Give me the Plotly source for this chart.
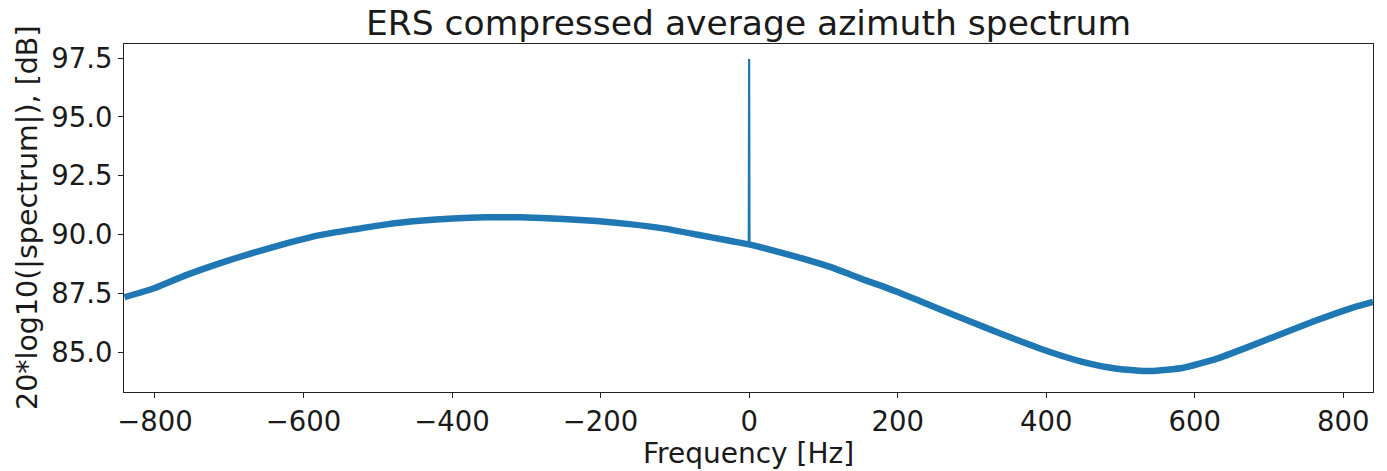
import plotly.graph_objects as go

# Frequency [Hz] and average spectrum [dB]
freq_hz = [-841, -802, -758, -713, -668, -623, -578, -533, -488, -444, -399, -354,
           -309, -250, -205, -161, -116, -71, -26, 0, 19, 64, 109, 136, 154, 181,
           200, 226, 243, 270, 315, 360, 405, 450, 495, 540, 585, 630, 674, 719,
           764, 809, 840]
spectrum_db = [87.33, 87.70, 88.27, 88.77, 89.22, 89.62, 89.97, 90.21, 90.43, 90.58,
               90.68, 90.73, 90.73, 90.66, 90.57, 90.44, 90.26, 90.00, 89.73, 89.58,
               89.43, 89.05, 88.62, 88.30, 88.08, 87.78, 87.55, 87.22, 87.00, 86.65,
               86.08, 85.52, 85.00, 84.57, 84.29, 84.19, 84.33, 84.72, 85.24, 85.80,
               86.35, 86.85, 87.13]

# DC spike
spike_hz = [-0.5, 0, 0.5]
spike_db = [89.58, 97.46, 89.58]

x_ticks = [-800, -600, -400, -200, 0, 200, 400, 600, 800]
y_ticks = [85.0, 87.5, 90.0, 92.5, 95.0, 97.5]

BLUE = "#1f77b4"
FONT = "DejaVu Sans"
TXT = "#1a1a1a"

fig = go.Figure()
fig.add_trace(go.Scatter(x=freq_hz, y=spectrum_db, mode="lines",
                         line=dict(color=BLUE, width=6.5, shape="spline", smoothing=0.5),
                         hoverinfo="skip", showlegend=False))
fig.add_trace(go.Scatter(x=spike_hz, y=spike_db, mode="lines",
                         line=dict(color=BLUE, width=2.2),
                         hoverinfo="skip", showlegend=False))

axis_common = dict(showline=True, linecolor="#222", linewidth=1.2, mirror=True,
                   showgrid=False, zeroline=False, ticks="outside", ticklen=5,
                   tickwidth=1.2, tickcolor="#222",
                   tickfont=dict(family=FONT, size=27.5, color=TXT))

fig.update_layout(
    width=1387, height=471,
    margin=dict(l=124, r=14, t=44, b=79),
    paper_bgcolor="white", plot_bgcolor="white",
    title=dict(text="ERS compressed average azimuth spectrum",
               font=dict(family=FONT, size=34.5, color=TXT),
               x=0.5, xanchor="center", xref="paper",
               y=1 - 23 / 471, yanchor="middle", yref="container"),
    xaxis=dict(range=[-841.7, 840], tickvals=x_ticks,
               ticktext=[("\u2212" + str(abs(v))) if v < 0 else str(v) for v in x_ticks],
               **axis_common),
    yaxis=dict(range=[83.3, 98.1], tickvals=y_ticks,
               ticktext=[f"{v:.1f}" for v in y_ticks], **axis_common),
    annotations=[
        dict(text="Frequency [Hz]", x=0.5, xref="paper", y=-61 / 348, yref="paper",
             xanchor="center", yanchor="middle", showarrow=False,
             font=dict(family=FONT, size=28, color=TXT)),
        dict(text="20*log10(|spectrum|), [dB]", x=-97 / 1249, xref="paper",
             y=0.5, yref="paper", xanchor="center", yanchor="middle",
             textangle=-90, showarrow=False,
             font=dict(family=FONT, size=28.5, color=TXT)),
    ],
)

fig.write_html("out.html")
